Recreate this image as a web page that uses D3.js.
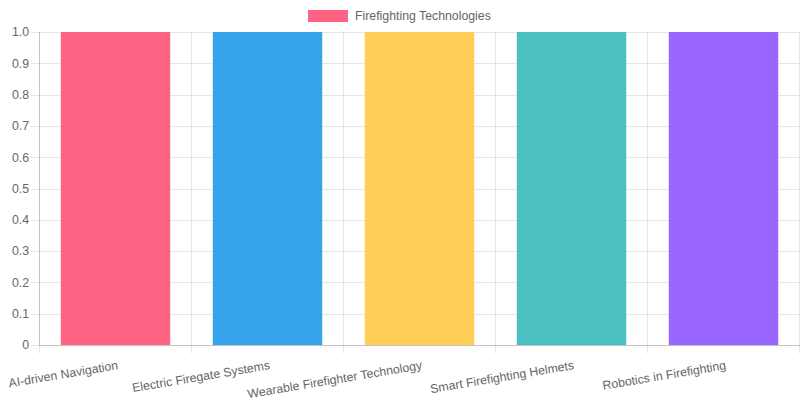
<!DOCTYPE html>
<html>
<head>
<meta charset="utf-8">
<script src="https://cdn.jsdelivr.net/npm/d3@7"></script>
<style>
  html, body { margin: 0; padding: 0; background: #fff; }
  svg { display: block; font-family: "Liberation Sans", Arial, Helvetica, sans-serif; }
</style>
</head>
<body>
<div id="chart"></div>
<script>
// chart data
const categories = [
    "AI-driven Navigation",
    "Electric Firegate Systems",
    "Wearable Firefighter Technology",
    "Smart Firefighting Helmets",
    "Robotics in Firefighting"
];
const values = [1, 1, 1, 1, 1];
const barColors = ["#ff6384", "#36a2eb", "#ffce56", "#4bc0c0", "#9966ff"];
const yTicks = [0, 0.1, 0.2, 0.3, 0.4, 0.5, 0.6, 0.7, 0.8, 0.9, 1.0];
const seriesName = "Firefighting Technologies";

const width = 800,
      height = 400;
const margin = {top: 32, right: 1, bottom: 55, left: 39};
const gridColor = "rgba(0,0,0,0.1)",
      textColor = "#666";
const fontSize = 12.3;

var svg = d3.select("#chart").append("svg")
            .attr("width", width)
            .attr("height", height);

var x = d3.scaleBand()
          .domain(categories)
          .range([margin.left, width - margin.right])
          .paddingInner(0)
          .paddingOuter(0);

var y = d3.scaleLinear()
          .domain([0, 1])
          .range([height - margin.bottom, margin.top]);

const bottom = height - margin.bottom;

/** grid: horizontal lines with small ticks to the left */
svg.append("g")
    .selectAll("line")
    .data(yTicks)
    .join("line")
      .attr("x1", margin.left - 8)
      .attr("x2", width - margin.right)
      .attr("y1", d => Math.round(y(d)) + 0.5)
      .attr("y2", d => Math.round(y(d)) + 0.5)
      .attr("stroke", gridColor);

// vertical lines at the category edges, running past the axis as ticks
let edges = categories.map(c => x(c)).concat([x(categories[categories.length - 1]) + x.bandwidth()]);
svg.append("g")
    .selectAll("line")
    .data(edges)
    .join("line")
      .attr("x1", d => Math.round(d) + 0.5)
      .attr("x2", d => Math.round(d) + 0.5)
      .attr("y1", margin.top)
      .attr("y2", bottom + 8)
      .attr("stroke", gridColor);

// bars (0.9 category * 0.8 bar like chart.js)
const barW = x.bandwidth() * 0.72;
svg.append("g")
    .selectAll("rect")
    .data(values)
    .join("rect")
      .attr("x", (d, i) => x(categories[i]) + (x.bandwidth() - barW) / 2 + 0.5)
      .attr("y", d => y(d))
      .attr("width", barW)
      .attr("height", d => bottom - y(d))
      .attr("fill", (d, i) => barColors[i]);

// axis lines
svg.append("line")
    .attr("x1", margin.left + 0.5).attr("x2", margin.left + 0.5)
    .attr("y1", margin.top).attr("y2", bottom)
    .attr("stroke", "rgba(0,0,0,0.15)");
svg.append("line")
    .attr("x1", margin.left).attr("x2", width)
    .attr("y1", bottom + 0.5).attr("y2", bottom + 0.5)
    .attr("stroke", "rgba(0,0,0,0.15)");

// y tick labels
svg.append("g")
    .selectAll("text")
    .data(yTicks)
    .join("text")
      .attr("x", margin.left - 10)
      .attr("y", d => y(d))
      .attr("dy", "0.35em")
      .attr("text-anchor", "end")
      .attr("font-size", fontSize)
      .attr("fill", textColor)
      .text(d => d === 0 ? "0" : d3.format(".1f")(d));

// x tick labels, rotated a little
svg.append("g")
    .selectAll("text")
    .data(categories)
    .join("text")
      .attr("transform", d => `translate(${x(d) + x.bandwidth() / 2 + 2},${bottom + 15}) rotate(-9.5)`)
      .attr("text-anchor", "end")
      .attr("dy", "0.75em")
      .attr("font-size", fontSize)
      .attr("fill", textColor)
      .text(d => d);

// legend
let legend = svg.append("g");
legend.append("rect")
    .attr("x", 308).attr("y", 10)
    .attr("width", 40).attr("height", 12)
    .attr("fill", barColors[0]);
legend.append("text")
    .attr("x", 355).attr("y", 16)
    .attr("dy", "0.35em")
    .attr("font-size", fontSize)
    .attr("fill", textColor)
    .text(seriesName);
</script>
</body>
</html>
